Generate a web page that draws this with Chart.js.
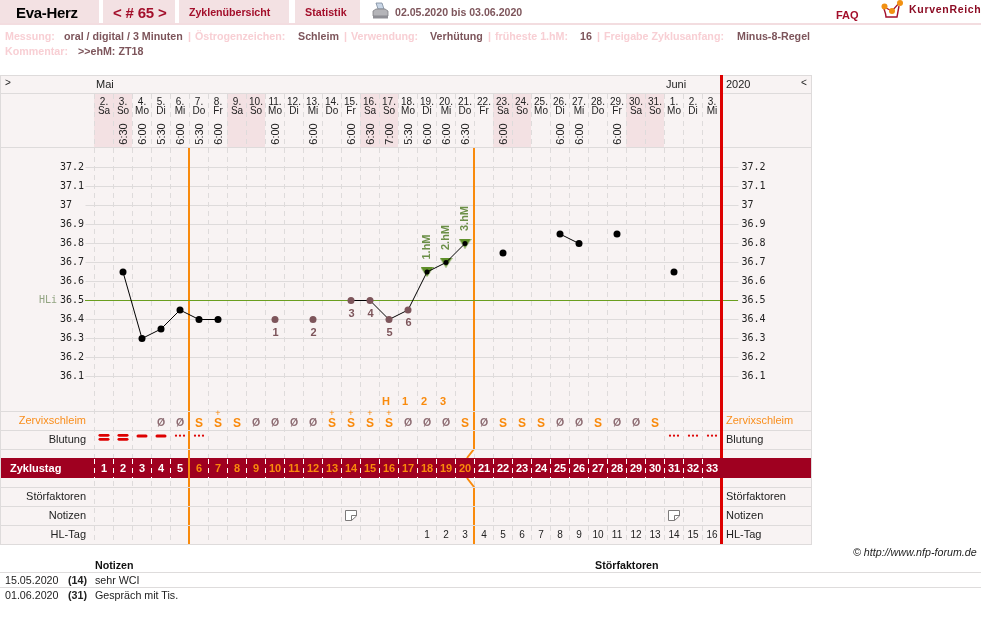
<!DOCTYPE html>
<html lang="de">
<head>
<meta charset="utf-8">
<title>Eva-Herz Zyklus 65</title>
<script src="https://cdn.jsdelivr.net/npm/chart.js@4"></script>
<style>
  html, body { margin: 0; padding: 0; background: #fff; overflow: hidden; }
  body { width: 981px; height: 624px; position: relative; font-family: "Liberation Sans", Arial, sans-serif; }
  #chart { position: absolute; left: 0; top: 0; }
  .t { position: absolute; white-space: nowrap; font-size: 10.7px; line-height: 13px; }
  .b { font-weight: bold; }
  .tab { position: absolute; top: 0; height: 23px; background: #f3e1e3; }
  .lab { color: #f8cfd4; font-weight: bold; }
  .val { color: #7d555b; font-weight: bold; }
  .red { color: #a30f2b; font-weight: bold; }
  .rule { position: absolute; left: 0; width: 981px; height: 1px; background: #dedcdc; }
</style>
</head>
<body>
<canvas id="chart" width="981" height="624"></canvas>

<div class="tab" style="left:0;width:99px"></div>
<div class="tab" style="left:103px;width:72px"></div>
<div class="tab" style="left:179px;width:110px"></div>
<div class="tab" style="left:295px;width:65px"></div>
<div class="rule" style="top:23px;height:2px;background:#f3dde0"></div>

<div class="t b" style="left:16px;top:4px;font-size:15px;line-height:17px;letter-spacing:-.3px;color:#000">Eva-Herz</div>
<div class="t red" style="left:113px;top:4px;font-size:15px;line-height:17px;letter-spacing:-.2px">&lt; # 65 &gt;</div>
<div class="t red" style="left:189px;top:6px;letter-spacing:-.05px">Zyklenübersicht</div>
<div class="t red" style="left:305px;top:6px">Statistik</div>
<svg style="position:absolute;left:372px;top:2px" width="17" height="19" viewBox="0 0 17 19">
  <path d="M4 1h6l2 6H6z" fill="#c9d6e6" stroke="#7c8a9c" stroke-width=".8"/>
  <path d="M1 9l3-2h9l3 2v5H1z" fill="#b4b4b8" stroke="#808086" stroke-width=".8"/>
  <path d="M1 14h15v2.5H1z" fill="#8e8e94"/>
</svg>
<div class="t val" style="left:395px;top:6px;font-size:10.6px">02.05.2020 bis 03.06.2020</div>
<div class="t red" style="left:836px;top:9px;font-size:11px">FAQ</div>
<svg style="position:absolute;left:880px;top:0" width="24" height="20" viewBox="0 0 24 20">
  <path d="M4 9c1 3 2 5 2 8h11l2-11" fill="none" stroke="#a30f2b" stroke-width="1.4"/>
  <path d="M4 7l8 4 8-9" fill="none" stroke="#a30f2b" stroke-width="1.2"/>
  <circle cx="4.5" cy="6.5" r="3" fill="#f29112"/>
  <circle cx="12" cy="11" r="3" fill="#f29112"/>
  <circle cx="20" cy="3" r="3" fill="#f29112"/>
</svg>
<div class="t" style="left:909px;top:3px;font-size:10.5px;font-weight:bold;letter-spacing:.7px;color:#8c0c24">KurvenReich</div>

<div class="t lab" style="left:5px;top:30px">Messung:</div>
<div class="t val" style="left:64px;top:30px">oral / digital / 3 Minuten</div>
<div class="t lab" style="left:188px;top:30px">|</div>
<div class="t lab" style="left:195px;top:30px">Östrogenzeichen:</div>
<div class="t val" style="left:298px;top:30px">Schleim</div>
<div class="t lab" style="left:344px;top:30px">|</div>
<div class="t lab" style="left:351px;top:30px">Verwendung:</div>
<div class="t val" style="left:430px;top:30px">Verhütung</div>
<div class="t lab" style="left:488px;top:30px">|</div>
<div class="t lab" style="left:495px;top:30px">früheste 1.hM:</div>
<div class="t val" style="left:580px;top:30px">16</div>
<div class="t lab" style="left:597px;top:30px">|</div>
<div class="t lab" style="left:604px;top:30px">Freigabe Zyklusanfang:</div>
<div class="t val" style="left:737px;top:30px">Minus-8-Regel</div>
<div class="t lab" style="left:5px;top:45px">Kommentar:</div>
<div class="t val" style="left:78px;top:45px">&gt;&gt;ehM: ZT18</div>

<div class="t" style="left:853px;top:546px;font-style:italic;color:#222">© http://www.nfp-forum.de</div>
<div class="t b" style="left:95px;top:559px;color:#111">Notizen</div>
<div class="t b" style="left:595px;top:559px;color:#111">Störfaktoren</div>
<div class="rule" style="top:572px"></div>
<div class="rule" style="top:587px"></div>
<div id="notes"></div>

<script>
// Cycle days and the calendar days they fall on (2 May - 3 June 2020)
const cycleDays = ['1','2','3','4','5','6','7','8','9','10','11','12','13','14','15','16','17','18','19','20','21','22','23','24','25','26','27','28','29','30','31','32','33'];
const dayNumbers = ['2.','3.','4.','5.','6.','7.','8.','9.','10.','11.','12.','13.','14.','15.','16.','17.','18.','19.','20.','21.','22.','23.','24.','25.','26.','27.','28.','29.','30.','31.','1.','2.','3.'];
const dayNames = ['Sa','So','Mo','Di','Mi','Do','Fr','Sa','So','Mo','Di','Mi','Do','Fr','Sa','So','Mo','Di','Mi','Do','Fr','Sa','So','Mo','Di','Mi','Do','Fr','Sa','So','Mo','Di','Mi'];
const times = [null,'6:30','6:00','5:30','6:00','5:30','6:00',null,null,'6:00',null,'6:00',null,'6:00','6:30','7:00','5:30','6:00','6:00','6:30',null,'6:00',null,null,'6:00','6:00',null,'6:00',null,null,null,null,null];

// Waking temperatures in degrees Celsius
const temperatures = [null,36.65,36.3,36.35,36.45,36.4,36.4,null,null,36.4,null,36.4,null,36.5,36.5,36.4,36.45,36.65,36.7,36.8,null,36.75,null,null,36.85,36.8,null,36.85,null,null,36.65,null,null];
const tempTicks = [37.2,37.1,37,36.9,36.8,36.7,36.6,36.5,36.4,36.3,36.2,36.1];
const coverLine = 36.5;

// Low-phase reference numbers and high-phase markers per cycle day
const lowLabels = [null,null,null,null,null,null,null,null,null,'1',null,'2',null,'3','4','5','6',null,null,null,null,null,null,null,null,null,null,null,null,null,null,null,null];
const highLabels = [null,null,null,null,null,null,null,null,null,null,null,null,null,null,null,null,null,'1.hM','2.hM','3.hM',null,null,null,null,null,null,null,null,null,null,null,null,null];
const peakRow = [null,null,null,null,null,null,null,null,null,null,null,null,null,null,null,'H','1','2','3',null,null,null,null,null,null,null,null,null,null,null,null,null,null];

// Observation rows
const mucus = [null,null,null,'Ø','Ø','S','S+','S','Ø','Ø','Ø','Ø','S+','S+','S+','S+','Ø','Ø','Ø','S','Ø','S','S','S','Ø','Ø','S','Ø','Ø','S',null,null,null];
const bleeding = ['heavy','heavy','medium','medium','spot','spot',null,null,null,null,null,null,null,null,null,null,null,null,null,null,null,null,null,null,null,null,null,null,null,null,'spot','spot','spot'];
const noteDays = [14,31];
const hlDays = [null,null,null,null,null,null,null,null,null,null,null,null,null,null,null,null,null,'1','2','3','4','5','6','7','8','9','10','11','12','13','14','15','16'];

// Phase boundaries: the last cycle day before each orange line
const phaseEnds = [5,20];
const weekendDays = [0,1,7,8,14,15,21,22,28,29];

const rowLabels = [['Zervixschleim',420.5,'#f98e1c'],['Blutung',439.5,'#222'],['Störfaktoren',496.5,'#222'],['Notizen',515.5,'#222'],['HL-Tag',534.5,'#222']];
const noteRows = [['15.05.2020','(14)','sehr WCI'],['01.06.2020','(31)','Gespräch mit Tis.']];

const notesEl = document.getElementById('notes');
noteRows.forEach((row, i) => {
  const top = 574 + i * 15;
  notesEl.insertAdjacentHTML('beforeend',
    `<div class="t" style="left:5px;top:${top}px;color:#222">${row[0]}</div>` +
    `<div class="t b" style="left:68px;top:${top}px;color:#222">${row[1]}</div>` +
    `<div class="t" style="left:95px;top:${top}px;color:#222">${row[2]}</div>`);
});

const SANS = '"Liberation Sans", Arial, sans-serif';
const PANEL = '#f8f3f3', ROW_LINE = '#dedbdb', PINK = '#f3e1e3', BAR = '#9f0020', ORANGE = '#f98a0c', RED = '#dd0000', BROWN = '#7d555b';
const RIGHT_EDGE = 811, DIVIDER = 721.5;

function text(ctx, str, x, y, font, color, align) {
  ctx.font = font;
  ctx.fillStyle = color;
  ctx.textAlign = align || 'center';
  ctx.textBaseline = 'middle';
  ctx.fillText(str, x, y);
}
function hline(ctx, y, x0, x1, color) {
  ctx.fillStyle = color;
  ctx.fillRect(x0, y, x1 - x0, 1);
}

// Downward triangle sprite for the high-phase temperatures, centred on its point
function triangleSprite() {
  const c = document.createElement('canvas');
  c.width = 13;
  c.height = 10;
  const g = c.getContext('2d');
  g.fillStyle = '#5f8f2a';
  g.beginPath();
  g.moveTo(0, 0); g.lineTo(13, 0); g.lineTo(6.5, 10);
  g.closePath();
  g.fill();
  return c;
}

// Panel background and calendar header, under the grid
const panelBackground = {
  id: 'panelBackground',
  beforeDraw(chart) {
    const { ctx, scales: { x } } = chart;
    const w = 19;
    ctx.save();
    ctx.fillStyle = PANEL;
    ctx.fillRect(1, 75, RIGHT_EDGE - 1, 469);
    ctx.fillStyle = PINK;
    weekendDays.forEach(i => ctx.fillRect(Math.floor(x.getPixelForValue(i) - w / 2), 94, w, 53));
    ctx.restore();
  }
};

// Rows below and around the plot, the phase lines and the cover line
const panelRows = {
  id: 'panelRows',
  beforeDatasetsDraw(chart) {
    const { ctx, scales: { x, y } } = chart;
    const bound = i => Math.floor(x.getPixelForValue(i) + 9.5);
    ctx.save();

    // Orange phase boundaries; the second one steps around its bar label
    ctx.strokeStyle = ORANGE;
    ctx.lineWidth = 2;
    ctx.beginPath();
    const b1 = bound(phaseEnds[0] - 1), b2 = bound(phaseEnds[1] - 1);
    ctx.moveTo(b1, 147); ctx.lineTo(b1, 544);
    ctx.moveTo(b2, 147); ctx.lineTo(b2, 449); ctx.lineTo(b2 - 7, 458);
    ctx.moveTo(b2 - 7, 478); ctx.lineTo(b2, 487); ctx.lineTo(b2, 544);
    ctx.stroke();

    // Row separators
    [75, 93, 147, 411, 430, 449, 487, 506, 525, 544].forEach(r => hline(ctx, r, 0, RIGHT_EDGE + 1, ROW_LINE));
    ctx.fillStyle = ROW_LINE;
    ctx.fillRect(0, 75, 1, 470);
    ctx.fillRect(RIGHT_EDGE, 75, 1, 470);

    // Cover line
    ctx.fillStyle = '#6a9e1f';
    ctx.fillRect(85, Math.floor(y.getPixelForValue(coverLine)), 653, 1);
    text(ctx, 'HLi', 48, y.getPixelForValue(coverLine), '10px "DejaVu Sans Mono"', '#93a583');

    // Divider between chart and right-hand legend
    ctx.fillStyle = RED;
    ctx.fillRect(720, 75, 3, 469);

    // Cycle-day bar
    ctx.fillStyle = BAR;
    ctx.fillRect(1, 458, RIGHT_EDGE - 1, 20);
    ctx.strokeStyle = '#fff';
    ctx.lineWidth = 1;
    ctx.setLineDash([5, 4]);
    ctx.beginPath();
    cycleDays.forEach((d, i) => {
      const px = Math.floor(x.getPixelForValue(i) - 9.5) + 0.5;
      ctx.moveTo(px, 459); ctx.lineTo(px, 478);
    });
    ctx.stroke();
    ctx.setLineDash([]);
    ctx.fillStyle = ORANGE;
    ctx.fillRect(b1 - 1, 458, 2, 20);
    ctx.restore();
  }
};

// Text and symbols that sit on the scales' day columns
const dayMarks = {
  id: 'dayMarks',
  afterDatasetsDraw(chart) {
    const { ctx, scales: { x, y } } = chart;
    ctx.save();
    const F10 = '10px ' + SANS, F11 = '11px ' + SANS;

    // Calendar header
    text(ctx, '>', 5, 83, F10, '#222', 'left');
    text(ctx, 'Mai', 96, 85, F11, '#222', 'left');
    text(ctx, 'Juni', 666, 85, F11, '#222', 'left');
    text(ctx, '2020', 726, 85, F11, '#222', 'left');
    text(ctx, '<', 801, 83, F10, '#222', 'left');

    cycleDays.forEach((d, i) => {
      const cx = x.getPixelForValue(i);

      text(ctx, dayNumbers[i], cx, 102, F10, '#222');
      text(ctx, dayNames[i], cx, 111, F10, '#222');
      if (times[i]) {
        ctx.save();
        ctx.translate(cx + 0.5, 134);
        ctx.rotate(-Math.PI / 2);
        text(ctx, times[i], 0, 0, F11, '#222');
        ctx.restore();
      }

      const py = temperatures[i] == null ? null : y.getPixelForValue(temperatures[i]);
      if (lowLabels[i]) text(ctx, lowLabels[i], cx + 0.5, py + 13, 'bold 11px ' + SANS, BROWN);
      if (highLabels[i]) {
        ctx.save();
        ctx.translate(cx - 0.5, py - 25);
        ctx.rotate(-Math.PI / 2);
        text(ctx, highLabels[i], 0, 0, 'bold 11px ' + SANS, '#6b8f47');
        ctx.restore();
      }
      if (peakRow[i]) text(ctx, peakRow[i], cx - 3, 402, 'bold 11px ' + SANS, ORANGE);

      // Mucus
      const m = mucus[i];
      if (m === 'Ø') text(ctx, 'Ø', cx, 423, 'bold 10.5px ' + SANS, '#8d6c72');
      if (m && m[0] === 'S') text(ctx, 'S', cx, 423.5, 'bold 12px ' + SANS, ORANGE);
      if (m === 'S+') text(ctx, '+', cx, 414, '9px ' + SANS, ORANGE);

      // Bleeding
      const bl = bleeding[i];
      ctx.fillStyle = RED;
      const dash = (yy, h) => { ctx.beginPath(); ctx.roundRect(cx - 5.5, yy, 11, h, h / 2); ctx.fill(); };
      if (bl === 'heavy') { dash(434, 2.7); dash(438, 2.7); }
      if (bl === 'medium') dash(434.5, 3);
      if (bl === 'spot') [-4, 0, 4].forEach(o => { ctx.beginPath(); ctx.arc(cx + o, 435.7, 1.1, 0, 7); ctx.fill(); });

      // Bar label
      const inPhase = i >= phaseEnds[0] && i < phaseEnds[1];
      text(ctx, d, cx, 468.5, 'bold 11px ' + SANS, inPhase ? ORANGE : '#fff');

      // HL day
      if (hlDays[i]) text(ctx, hlDays[i], cx, 535, '10px ' + SANS, '#222');
    });

    // Note symbols
    noteDays.forEach(day => {
      const cx = x.getPixelForValue(day - 1);
      ctx.strokeStyle = '#7c7a7a';
      ctx.fillStyle = '#fff';
      ctx.lineWidth = 1;
      ctx.beginPath();
      ctx.moveTo(cx - 5.5, 510.5); ctx.lineTo(cx + 5.5, 510.5); ctx.lineTo(cx + 5.5, 516); ctx.lineTo(cx + 0.5, 520.5); ctx.lineTo(cx - 5.5, 520.5);
      ctx.closePath();
      ctx.fill();
      ctx.stroke();
      ctx.beginPath();
      ctx.moveTo(cx + 0.5, 520.5); ctx.lineTo(cx + 0.5, 515.5); ctx.lineTo(cx + 5.5, 515.5);
      ctx.stroke();
    });

    // Row names on both sides
    rowLabels.forEach(([label, yy, color]) => {
      text(ctx, label, 86, yy, F11, color, 'right');
      text(ctx, label, 726, yy, F11, color, 'left');
    });
    text(ctx, 'Zyklustag', 10, 468.5, 'bold 11px ' + SANS, '#fff', 'left');
    ctx.restore();
  }
};

const AXIS_FONT = { family: '"DejaVu Sans Mono"', size: 10 };
const keepTempTicks = axis => { axis.ticks = tempTicks.map(value => ({ value })); };

new Chart(document.getElementById('chart'), {
  type: 'line',
  data: {
    labels: cycleDays,
    datasets: [
      {
        label: 'Temperatur',
        data: temperatures,
        order: 1,
        borderColor: '#000',
        borderWidth: 1,
        tension: 0,
        spanGaps: false,
        clip: false,
        pointRadius: ctx => (highLabels[ctx.dataIndex] ? 2.5 : 3.5),
        pointHoverRadius: 3.5,
        pointBorderWidth: 0,
        pointBackgroundColor: ctx => (lowLabels[ctx.dataIndex] ? BROWN : '#000')
      },
      {
        label: 'Hochlage',
        data: temperatures.map((t, i) => (highLabels[i] ? t : null)),
        order: 2,
        showLine: false,
        pointStyle: triangleSprite(),
        pointRadius: 6.5,
        pointBorderWidth: 0
      }
    ]
  },
  options: {
    responsive: false,
    animation: false,
    devicePixelRatio: 1,
    layout: { padding: { left: 60, right: 981 - DIVIDER - 90, top: 94, bottom: 80 } },
    plugins: { legend: { display: false }, tooltip: { enabled: false } },
    scales: {
      x: {
        type: 'category',
        offset: true,
        ticks: { display: false },
        border: { display: false, dash: [5, 4] },
        grid: { offset: true, color: ROW_LINE, lineWidth: 1, tickLength: 0, drawTicks: false },
        afterFit: axis => { axis.height = 0; }
      },
      y: {
        position: 'left',
        min: 36.5 - 243.5 / 190,
        max: 36.5 + 206.5 / 190,
        afterBuildTicks: keepTempTicks,
        afterFit: axis => { axis.width = 34.5; },
        border: { display: false },
        ticks: { font: AXIS_FONT, color: '#222', crossAlign: 'far', padding: 0, autoSkip: false, callback: v => String(v) },
        grid: { color: ROW_LINE, lineWidth: 1, tickLength: 9 }
      },
      yRight: {
        position: 'right',
        min: 36.5 - 243.5 / 190,
        max: 36.5 + 206.5 / 190,
        afterBuildTicks: keepTempTicks,
        afterFit: axis => { axis.width = 90; },
        border: { display: false },
        ticks: { font: AXIS_FONT, color: '#222', padding: 3, autoSkip: false, callback: v => String(v) },
        grid: { color: ROW_LINE, lineWidth: 1, tickLength: 17, drawOnChartArea: false }
      }
    }
  },
  plugins: [panelBackground, panelRows, dayMarks]
});
</script>
</body>
</html>
